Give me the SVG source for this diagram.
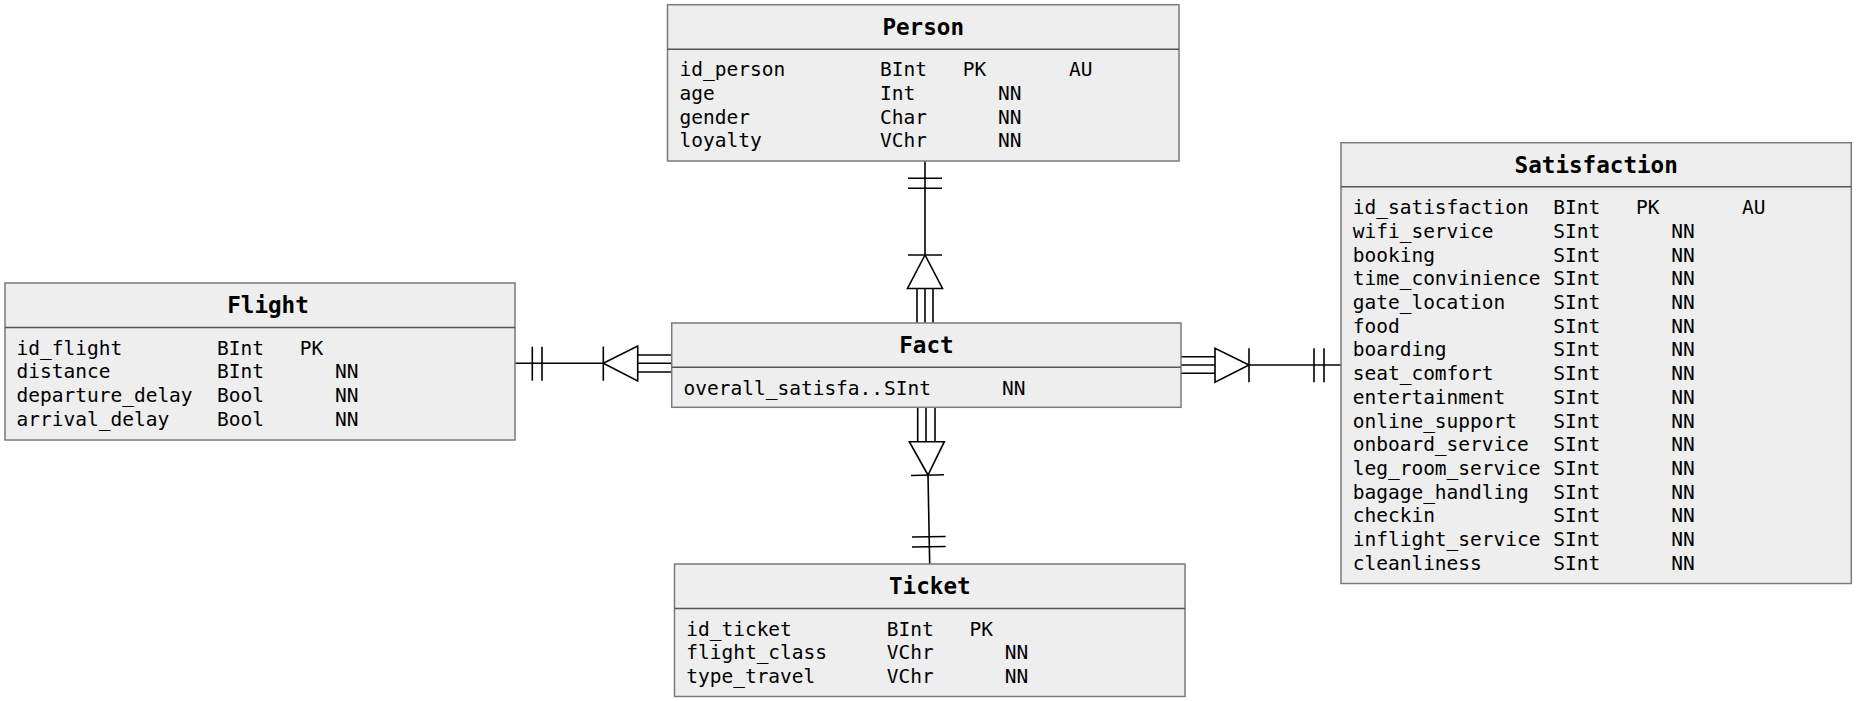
<svg xmlns="http://www.w3.org/2000/svg" width="1856" height="701" viewBox="0 0 1856 701">
<style>
.box{fill:#eeeeee;stroke:#7a7a7a;stroke-width:1.5}
.div{stroke:#555555;stroke-width:1.5}
.hd{font-family:"DejaVu Sans Mono","Liberation Mono",monospace;font-weight:bold;font-size:22.6px;fill:#000;text-anchor:middle}
.t{font-family:"DejaVu Sans Mono","Liberation Mono",monospace;font-size:19.5px;fill:#000}
.c{stroke:#000;stroke-width:1.6;fill:none}
.tri{stroke:#000;stroke-width:1.6;fill:#fff}
</style>
<rect width="1856" height="701" fill="#fff"/>
<g id="connectors">
  <g id="c-person-fact">
    <line class="c" x1="925" y1="161" x2="925" y2="255"/>
    <line class="c" x1="908" y1="178.3" x2="942" y2="178.3"/>
    <line class="c" x1="908" y1="188.3" x2="942" y2="188.3"/>
    <line class="c" x1="908" y1="255" x2="942" y2="255"/>
    <polygon class="tri" points="925,255 907.5,288.5 942.5,288.5"/>
    <line class="c" x1="917" y1="288.5" x2="917" y2="323"/>
    <line class="c" x1="925" y1="288.5" x2="925" y2="323"/>
    <line class="c" x1="933" y1="288.5" x2="933" y2="323"/>
  </g>
  <g id="c-flight-fact">
    <line class="c" x1="515" y1="363.3" x2="603.3" y2="363.3"/>
    <line class="c" x1="532.3" y1="346.7" x2="532.3" y2="380.7"/>
    <line class="c" x1="542" y1="346.7" x2="542" y2="380.7"/>
    <line class="c" x1="603.3" y1="346.5" x2="603.3" y2="380.7"/>
    <polygon class="tri" points="603.3,363.3 637.7,346 637.7,381"/>
    <line class="c" x1="637.7" y1="355" x2="671.7" y2="355"/>
    <line class="c" x1="637.7" y1="363.3" x2="671.7" y2="363.3"/>
    <line class="c" x1="637.7" y1="372" x2="671.7" y2="372"/>
  </g>
  <g id="c-fact-satisfaction">
    <line class="c" x1="1181" y1="356.7" x2="1215" y2="356.7"/>
    <line class="c" x1="1181" y1="365" x2="1215" y2="365"/>
    <line class="c" x1="1181" y1="373.3" x2="1215" y2="373.3"/>
    <polygon class="tri" points="1249,365 1215,348.3 1215,382.3"/>
    <line class="c" x1="1249" y1="348.3" x2="1249" y2="382.3"/>
    <line class="c" x1="1249" y1="365" x2="1341" y2="365"/>
    <line class="c" x1="1314" y1="348.3" x2="1314" y2="382.3"/>
    <line class="c" x1="1324" y1="348.3" x2="1324" y2="382.3"/>
  </g>
  <g id="c-fact-ticket">
    <line class="c" x1="917.7" y1="407.3" x2="917.7" y2="441.7"/>
    <line class="c" x1="926" y1="407.3" x2="926" y2="441.7"/>
    <line class="c" x1="935" y1="407.3" x2="935" y2="441.7"/>
    <polygon class="tri" points="928,475 909.3,441.7 944.3,441.7"/>
    <line class="c" x1="911" y1="475.5" x2="944" y2="474.8"/>
    <line class="c" x1="928" y1="475" x2="929.7" y2="564"/>
    <line class="c" x1="912" y1="537" x2="945.7" y2="536.5"/>
    <line class="c" x1="912" y1="547" x2="945.7" y2="546.5"/>
  </g>
</g>
<g id="person">
  <rect class="box" x="667.5" y="4.7" width="511.5" height="156.3"/>
  <line class="div" x1="667.5" y1="49.3" x2="1179" y2="49.3"/>
  <text class="hd" x="923.2" y="35">Person</text>
  <text class="t" x="679.5" y="76.3">id_person</text><text class="t" x="880.1" y="76.3">BInt</text><text class="t" x="962.7" y="76.3">PK</text><text class="t" x="1068.9" y="76.3">AU</text>
  <text class="t" x="679.5" y="100">age</text><text class="t" x="880.1" y="100">Int</text><text class="t" x="998.1" y="100">NN</text>
  <text class="t" x="679.5" y="123.7">gender</text><text class="t" x="880.1" y="123.7">Char</text><text class="t" x="998.1" y="123.7">NN</text>
  <text class="t" x="679.5" y="147.4">loyalty</text><text class="t" x="880.1" y="147.4">VChr</text><text class="t" x="998.1" y="147.4">NN</text>
</g>
<g id="flight">
  <rect class="box" x="5" y="283" width="510" height="157"/>
  <line class="div" x1="5" y1="327.6" x2="515" y2="327.6"/>
  <text class="hd" x="268" y="313.3">Flight</text>
  <text class="t" x="16.5" y="354.6">id_flight</text><text class="t" x="217.1" y="354.6">BInt</text><text class="t" x="299.7" y="354.6">PK</text>
  <text class="t" x="16.5" y="378.3">distance</text><text class="t" x="217.1" y="378.3">BInt</text><text class="t" x="335.1" y="378.3">NN</text>
  <text class="t" x="16.5" y="402">departure_delay</text><text class="t" x="217.1" y="402">Bool</text><text class="t" x="335.1" y="402">NN</text>
  <text class="t" x="16.5" y="425.7">arrival_delay</text><text class="t" x="217.1" y="425.7">Bool</text><text class="t" x="335.1" y="425.7">NN</text>
</g>
<g id="fact">
  <rect class="box" x="671.7" y="323" width="509.3" height="84.3"/>
  <line class="div" x1="671.7" y1="367.3" x2="1181" y2="367.3"/>
  <text class="hd" x="926.4" y="353.3">Fact</text>
  <text class="t" x="683.5" y="394.6">overall_satisfa..</text><text class="t" x="884.1" y="394.6">SInt</text><text class="t" x="1002.1" y="394.6">NN</text>
</g>
<g id="satisfaction">
  <rect class="box" x="1341" y="142.7" width="510.3" height="440.8"/>
  <line class="div" x1="1341" y1="186.7" x2="1851.3" y2="186.7"/>
  <text class="hd" x="1596.2" y="173">Satisfaction</text>
  <g class="t">
  <text x="1352.7" y="214.2">id_satisfaction</text><text x="1553.3" y="214.2">BInt</text><text x="1635.9" y="214.2">PK</text><text x="1742.1" y="214.2">AU</text>
  <text x="1352.7" y="237.9">wifi_service</text><text x="1553.3" y="237.9">SInt</text><text x="1671.3" y="237.9">NN</text>
  <text x="1352.7" y="261.6">booking</text><text x="1553.3" y="261.6">SInt</text><text x="1671.3" y="261.6">NN</text>
  <text x="1352.7" y="285.3">time_convinience</text><text x="1553.3" y="285.3">SInt</text><text x="1671.3" y="285.3">NN</text>
  <text x="1352.7" y="309">gate_location</text><text x="1553.3" y="309">SInt</text><text x="1671.3" y="309">NN</text>
  <text x="1352.7" y="332.7">food</text><text x="1553.3" y="332.7">SInt</text><text x="1671.3" y="332.7">NN</text>
  <text x="1352.7" y="356.4">boarding</text><text x="1553.3" y="356.4">SInt</text><text x="1671.3" y="356.4">NN</text>
  <text x="1352.7" y="380.1">seat_comfort</text><text x="1553.3" y="380.1">SInt</text><text x="1671.3" y="380.1">NN</text>
  <text x="1352.7" y="403.8">entertainment</text><text x="1553.3" y="403.8">SInt</text><text x="1671.3" y="403.8">NN</text>
  <text x="1352.7" y="427.5">online_support</text><text x="1553.3" y="427.5">SInt</text><text x="1671.3" y="427.5">NN</text>
  <text x="1352.7" y="451.2">onboard_service</text><text x="1553.3" y="451.2">SInt</text><text x="1671.3" y="451.2">NN</text>
  <text x="1352.7" y="474.9">leg_room_service</text><text x="1553.3" y="474.9">SInt</text><text x="1671.3" y="474.9">NN</text>
  <text x="1352.7" y="498.6">bagage_handling</text><text x="1553.3" y="498.6">SInt</text><text x="1671.3" y="498.6">NN</text>
  <text x="1352.7" y="522.3">checkin</text><text x="1553.3" y="522.3">SInt</text><text x="1671.3" y="522.3">NN</text>
  <text x="1352.7" y="546">inflight_service</text><text x="1553.3" y="546">SInt</text><text x="1671.3" y="546">NN</text>
  <text x="1352.7" y="569.7">cleanliness</text><text x="1553.3" y="569.7">SInt</text><text x="1671.3" y="569.7">NN</text>
  </g>
</g>
<g id="ticket">
  <rect class="box" x="674.5" y="564" width="510.5" height="132.5"/>
  <line class="div" x1="674.5" y1="608.5" x2="1185" y2="608.5"/>
  <text class="hd" x="929.8" y="594.3">Ticket</text>
  <text class="t" x="686.2" y="635.6">id_ticket</text><text class="t" x="886.8" y="635.6">BInt</text><text class="t" x="969.4" y="635.6">PK</text>
  <text class="t" x="686.2" y="659.3">flight_class</text><text class="t" x="886.8" y="659.3">VChr</text><text class="t" x="1004.8" y="659.3">NN</text>
  <text class="t" x="686.2" y="683">type_travel</text><text class="t" x="886.8" y="683">VChr</text><text class="t" x="1004.8" y="683">NN</text>
</g>
</svg>
